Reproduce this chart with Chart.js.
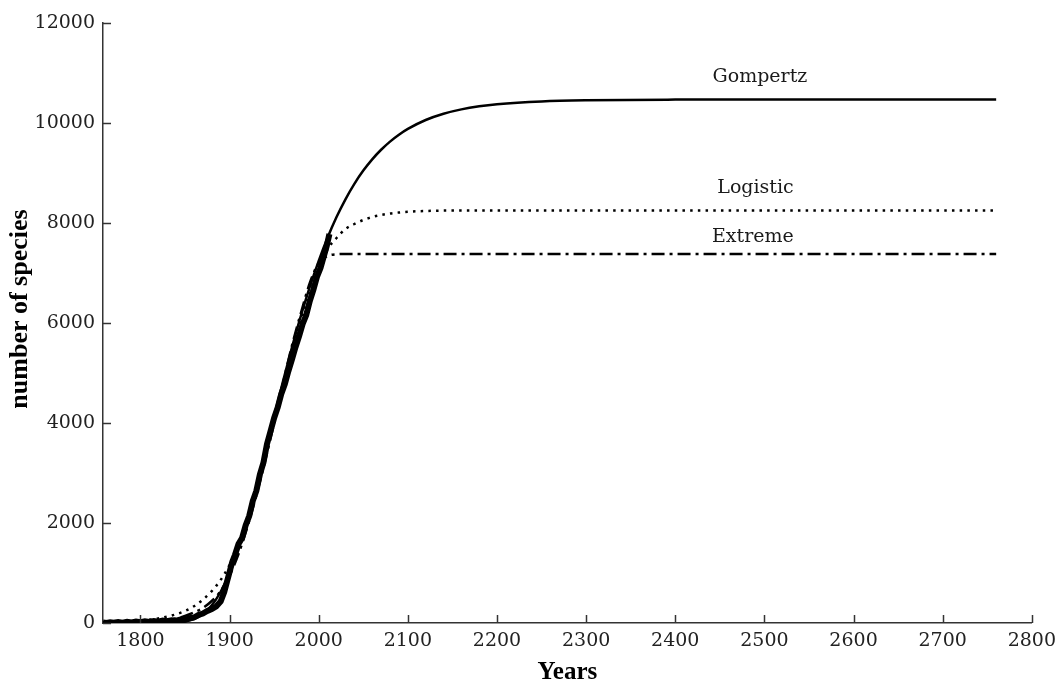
<!DOCTYPE html>
<html>
<head>
<meta charset="utf-8">
<script src="https://cdn.jsdelivr.net/npm/chart.js@4/dist/chart.umd.min.js"></script>
<style>
  html, body { margin: 0; padding: 0; background: #fff; }
  #wrap { width: 1063px; height: 685px; }
</style>
</head>
<body>
<div id="wrap"><canvas id="speciesChart"></canvas></div>
<script>
// fitted model curves
const fitYears = [1758, 1780, 1800, 1820, 1840, 1850, 1860, 1870, 1880, 1890, 1900, 1910, 1920, 1930, 1940, 1950, 1960, 1970, 1980, 1990, 2000, 2010, 2020, 2030, 2040, 2050, 2060, 2070, 2080, 2090, 2100, 2120, 2140, 2160, 2180, 2200, 2250, 2300, 2400, 2500, 2600, 2700, 2760];
const gompertz = [0, 0, 0, 0, 9, 28, 77, 177, 353, 625, 1006, 1495, 2076, 2731, 3426, 4137, 4840, 5512, 6143, 6722, 7244, 7710, 8119, 8474, 8783, 9048, 9273, 9465, 9628, 9765, 9881, 10060, 10185, 10272, 10333, 10375, 10432, 10455, 10468, 10470, 10470, 10470, 10470];
const logistic = [12, 23, 46, 90, 174, 241, 335, 465, 637, 862, 1162, 1541, 2050, 2650, 3350, 4050, 4780, 5450, 6050, 6600, 7080, 7480, 7700, 7880, 7980, 8060, 8120, 8160, 8190, 8210, 8225, 8240, 8248, 8250, 8250, 8250, 8250, 8250, 8250, 8250, 8250, 8250, 8250];
const extreme = [5, 10, 20, 40, 90, 140, 210, 300, 440, 640, 950, 1380, 1920, 2550, 3250, 4000, 4800, 5550, 6200, 6800, 7200, 7340, 7375, 7380, 7380, 7380, 7380, 7380, 7380, 7380, 7380, 7380, 7380, 7380, 7380, 7380, 7380, 7380, 7380, 7380, 7380, 7380, 7380];

// observed species counts
const obsYears = [1758, 1762, 1766, 1770, 1775, 1780, 1785, 1790, 1795, 1800, 1805, 1810, 1815, 1820, 1825, 1830, 1835, 1840, 1845, 1850, 1855, 1860, 1865, 1870, 1875, 1880, 1885, 1890, 1894, 1897, 1900, 1903, 1906, 1910, 1914, 1918, 1922, 1926, 1930, 1934, 1938, 1942, 1946, 1950, 1954, 1958, 1962, 1966, 1970, 1974, 1978, 1982, 1986, 1990, 1994, 1998, 2002, 2006, 2009, 2012];
const observed = [10, 0, 15, 5, 20, 8, 25, 12, 30, 15, 35, 20, 40, 25, 50, 35, 55, 45, 70, 65, 95, 110, 160, 190, 240, 280, 330, 430, 620, 820, 1020, 1220, 1360, 1580, 1700, 1950, 2140, 2440, 2640, 2970, 3210, 3580, 3840, 4100, 4310, 4580, 4780, 5040, 5270, 5520, 5740, 5980, 6160, 6440, 6660, 6920, 7100, 7350, 7540, 7780];

const xTicks = [1800, 2800, 100];
const yTicks = [0, 12000, 2000];
const curveNames = ['Gompertz', 'Logistic', 'Extreme'];

function pts(xs, ys) {
  return xs.map((x, i) => ({ x: x, y: ys[i] }));
}

const tickFont = { family: '"DejaVu Serif", serif', size: 19 };
const titleFont = { family: '"Liberation Serif", "Times New Roman", serif', size: 25, weight: 'bold', lineHeight: 1 };

// inward tick marks, y title and curve names
const overlay = {
  id: 'overlay',
  afterDraw(chart) {
    const { ctx, scales: { x, y } } = chart;
    ctx.save();
    ctx.strokeStyle = '#333';
    ctx.lineWidth = 1.5;
    x.ticks.forEach(t => {
      const px = Math.round(x.getPixelForValue(t.value)) + 0.5;
      ctx.beginPath();
      ctx.moveTo(px, y.bottom);
      ctx.lineTo(px, y.bottom - 8);
      ctx.stroke();
    });
    y.ticks.forEach(t => {
      const py = Math.round(y.getPixelForValue(t.value)) + 0.5;
      ctx.beginPath();
      ctx.moveTo(x.left, py);
      ctx.lineTo(x.left + 8, py);
      ctx.stroke();
    });

    ctx.save();
    ctx.translate(20, 309);
    ctx.rotate(-Math.PI / 2);
    ctx.font = 'bold 26px "Liberation Serif", "Times New Roman", serif';
    ctx.fillStyle = '#000';
    ctx.textAlign = 'center';
    ctx.textBaseline = 'middle';
    ctx.fillText('number of species', 0, 0);
    ctx.restore();

    const spots = [[2495, 10920], [2490, 8700], [2487, 7720]];
    ctx.font = '19px "DejaVu Serif", serif';
    ctx.fillStyle = '#1a1a1a';
    ctx.textAlign = 'center';
    ctx.textBaseline = 'middle';
    curveNames.forEach((name, i) => {
      ctx.fillText(name, x.getPixelForValue(spots[i][0]), y.getPixelForValue(spots[i][1]));
    });
    ctx.restore();
  }
};

new Chart(document.getElementById('speciesChart'), {
  type: 'line',
  data: {
    datasets: [
      {
        label: curveNames[0],
        data: pts(fitYears, gompertz),
        borderColor: '#000',
        borderWidth: 2.5,
        pointRadius: 0,
        cubicInterpolationMode: 'monotone'
      },
      {
        label: curveNames[1],
        data: pts(fitYears, logistic),
        borderColor: '#000',
        borderWidth: 2.5,
        borderDash: [2.5, 5.2],
        pointRadius: 0,
        cubicInterpolationMode: 'monotone'
      },
      {
        label: curveNames[2],
        data: pts(fitYears, extreme),
        borderColor: '#000',
        borderWidth: 2.5,
        borderDash: [13, 5, 3, 5],
        pointRadius: 0,
        cubicInterpolationMode: 'monotone'
      },
      {
        label: 'observed',
        data: pts(obsYears, observed),
        borderColor: '#000',
        borderWidth: 6,
        pointRadius: 0,
        tension: 0
      }
    ]
  },
  plugins: [overlay],
  options: {
    responsive: true,
    maintainAspectRatio: false,
    animation: false,
    layout: { padding: { top: 23, right: 28, left: 0, bottom: 0 } },
    plugins: {
      legend: { display: false },
      tooltip: { enabled: false }
    },
    scales: {
      x: {
        type: 'linear',
        min: 1758,
        max: xTicks[1],
        afterFit: s => { s.height = 62; },
        border: { display: true, color: '#333', width: 1.5 },
        grid: { drawOnChartArea: false, drawTicks: false },
        ticks: {
          stepSize: xTicks[2],
          includeBounds: false,
          padding: 7,
          color: '#222',
          font: tickFont,
          callback: v => String(v)
        },
        title: {
          display: true,
          text: 'Years',
          color: '#000',
          font: titleFont,
          padding: { top: 0, bottom: 0 }
        }
      },
      y: {
        min: yTicks[0],
        max: yTicks[1],
        afterFit: s => { s.width = 103; },
        border: { display: true, color: '#333', width: 1.5 },
        grid: { drawOnChartArea: false, drawTicks: false },
        ticks: {
          stepSize: yTicks[2],
          padding: 8,
          color: '#222',
          font: tickFont,
          callback: v => String(v)
        }
      }
    }
  }
});
</script>
</body>
</html>
